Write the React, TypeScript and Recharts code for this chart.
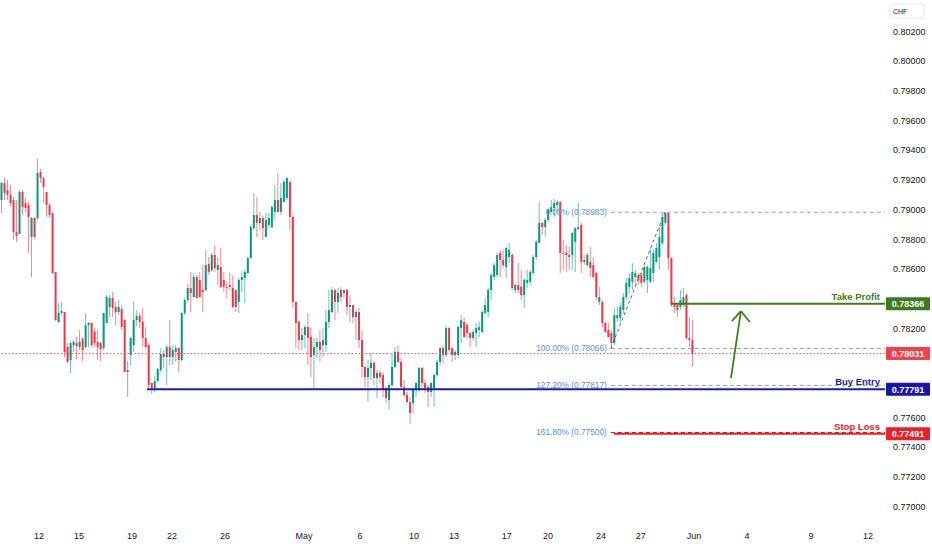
import { Bar, ComposedChart, ReferenceLine, XAxis, YAxis } from 'recharts'

// USD/CHF candles, prices stored in units of 0.00001 CHF (79065 = 0.79065).
// One entry per bar left to right.
const opens = [
  79065, 79180, 79133, 79099, 79065, 78850, 78836, 79120, 79045, 79031, 78816, 78944, 78944, 79254, 79213, 79120, 79031, 78978, 78581, 78244, 78304, 78311, 78075, 77988, 78088, 78102, 78075, 78129, 78075, 78223, 78237, 78177, 78109, 78102, 78068, 78237, 78345, 78405, 78345, 78311, 78331,
  78257, 77907, 78021, 78088, 78257, 78284, 78244, 78136, 78088, 77833, 77799, 77846, 77920, 78028, 78008, 78075, 78008, 78042, 78068, 77988, 78304, 78392, 78472, 78412, 78547, 78527, 78459, 78459, 78634, 78594, 78695, 78594, 78614, 78527, 78480, 78493, 78473,
  78459, 78379, 78527, 78540, 78574, 78674, 78876, 78964, 78911, 78944, 78816, 78897, 78883, 78985, 79065, 78985, 79052, 79079, 79187, 78951, 78379, 78244, 78122, 78156, 78210, 78143, 78021, 78075, 78109, 78088, 78088, 78244, 78311, 78459, 78379, 78459, 78439, 78459,
  78345, 78358, 78277, 78311, 78122, 77941, 77873, 77934, 77968, 77866, 77900, 77886, 77799, 77718, 77819, 77941, 78042, 77975, 77806, 77752, 77705, 77698, 77786, 77786, 77934, 77833, 77806, 77773, 77799, 77886, 77975, 78068, 78021, 78203, 78068, 78021, 78021, 78203, 78244,
  78223, 78170, 78136, 78170, 78190, 78177, 78304, 78311, 78459, 78547, 78560, 78709, 78661, 78614, 78681, 78695, 78459, 78493, 78480, 78425, 78507, 78514, 78574, 78681, 78776, 78911, 78883, 78931, 78985, 79011, 79031, 79052, 78709, 78709, 78695, 78695, 78783, 78870,
  78897, 78661, 78627, 78648, 78627, 78574, 78379, 78379, 78237, 78190, 78170, 78102, 78270, 78270, 78324, 78412, 78480, 78514, 78547, 78560, 78560, 78514, 78527, 78514, 78574, 78648, 78681, 78776, 78911, 78978, 78674, 78358, 78358, 78345, 78358, 78425, 78136, 78122,
]
const highs = [
  79187, 79213, 79200, 79166, 79086, 79065, 79133, 79133, 79079, 79052, 78951, 78951, 79342, 79274, 79220, 79120, 79045, 78978, 78581, 78372, 78379, 78311, 78102, 78109, 78122, 78143, 78190, 78143, 78304, 78244, 78237, 78203, 78190, 78109, 78304, 78425, 78425, 78446, 78379, 78392, 78358,
  78263, 77981, 78143, 78385, 78324, 78304, 78338, 78210, 78102, 77833, 77880, 77934, 78068, 78055, 78088, 78257, 78088, 78088, 78075, 78311, 78405, 78500, 78581, 78574, 78560, 78581, 78627, 78729, 78681, 78709, 78762, 78681, 78742, 78581, 78514, 78574, 78560,
  78459, 78540, 78587, 78594, 78681, 78897, 79113, 79086, 78985, 78958, 78978, 78978, 79031, 79166, 79247, 79180, 79200, 79220, 79193, 78964, 78385, 78257, 78203, 78223, 78304, 78203, 78136, 78136, 78190, 78203, 78324, 78459, 78480, 78466, 78473, 78480, 78459, 78466,
  78425, 78358, 78324, 78338, 78190, 77948, 77988, 78035, 77981, 77920, 77920, 77907, 77806, 77833, 78035, 78075, 78088, 78001, 77853, 77773, 77739, 77799, 77840, 77941, 77941, 77853, 77819, 77840, 77900, 77988, 78075, 78088, 78223, 78210, 78068, 78055, 78223, 78290, 78277,
  78237, 78177, 78190, 78237, 78244, 78324, 78405, 78473, 78574, 78641, 78709, 78729, 78729, 78749, 78776, 78709, 78507, 78641, 78594, 78540, 78594, 78594, 78695, 78796, 79052, 78918, 78944, 79011, 79065, 79072, 79065, 79059, 78796, 78762, 78749, 78850, 78883, 79045,
  78911, 78695, 78709, 78749, 78681, 78581, 78480, 78392, 78244, 78237, 78190, 78338, 78345, 78372, 78439, 78540, 78574, 78641, 78594, 78574, 78581, 78627, 78627, 78742, 78729, 78776, 78883, 78978, 78983, 78978, 78681, 78412, 78372, 78459, 78473, 78439, 78277, 78257,
]
const lows = [
  78978, 79065, 79065, 79025, 78796, 78783, 78836, 78964, 78985, 78709, 78547, 78809, 78931, 79180, 79045, 78951, 78944, 78567, 78250, 78237, 78290, 78008, 77968, 77900, 78042, 77994, 78055, 77981, 78068, 78075, 78075, 78075, 77988, 77981, 78055, 78237, 78277, 78277, 78223, 78290, 78190,
  77907, 77739, 77954, 78042, 78217, 78203, 78075, 78068, 77799, 77759, 77773, 77840, 77907, 77934, 77819, 77954, 77954, 77975, 77907, 77975, 78290, 78372, 78311, 78405, 78405, 78405, 78311, 78446, 78560, 78581, 78581, 78493, 78473, 78446, 78405, 78459, 78338,
  78311, 78304, 78446, 78372, 78560, 78674, 78863, 78816, 78863, 78796, 78816, 78876, 78876, 78931, 78978, 78964, 79052, 79065, 78863, 78338, 78068, 78055, 78055, 78068, 77954, 77873, 77799, 78001, 77975, 78008, 78042, 78203, 78304, 78257, 78304, 78379, 78405, 78290,
  78244, 78237, 78122, 78068, 77873, 77806, 77705, 77853, 77819, 77732, 77833, 77739, 77698, 77651, 77806, 77934, 77968, 77799, 77739, 77698, 77557, 77631, 77739, 77773, 77806, 77766, 77671, 77739, 77671, 77873, 77954, 77968, 78008, 78042, 77975, 77988, 78008, 78102, 78136,
  78136, 78075, 78122, 78075, 78143, 78170, 78290, 78277, 78392, 78527, 78547, 78547, 78607, 78540, 78641, 78459, 78439, 78439, 78392, 78338, 78473, 78493, 78560, 78661, 78776, 78829, 78816, 78918, 78978, 78951, 78978, 78574, 78594, 78581, 78594, 78594, 78581, 78863,
  78574, 78627, 78614, 78547, 78540, 78392, 78358, 78210, 78170, 78136, 78066, 78088, 78244, 78237, 78304, 78392, 78439, 78459, 78493, 78493, 78480, 78507, 78439, 78507, 78514, 78641, 78594, 78762, 78897, 78594, 78345, 78304, 78277, 78324, 78345, 78122, 78075, 77941,
]
const closes = [
  79180, 79113, 79099, 79045, 78850, 78823, 79120, 79018, 79011, 78951, 78944, 78816, 79247, 79213, 79153, 79031, 78964, 78574, 78257, 78304, 78317, 78042, 77975, 78102, 78109, 78082, 78109, 78055, 78223, 78237, 78088, 78102, 78075, 78061, 78304, 78412, 78405, 78338, 78311, 78345, 78210,
  77907, 77920, 78136, 78257, 78284, 78244, 78136, 78075, 77819, 77799, 77846, 77927, 78028, 78008, 78075, 78008, 78055, 78068, 77988, 78304, 78392, 78472, 78439, 78547, 78405, 78412, 78446, 78627, 78581, 78695, 78607, 78627, 78480, 78480, 78473, 78480, 78345,
  78345, 78527, 78547, 78581, 78674, 78883, 78964, 78911, 78944, 78876, 78931, 78944, 79018, 79065, 78985, 79079, 79187, 79213, 78951, 78379, 78237, 78122, 78156, 78210, 78136, 78008, 78075, 78109, 78055, 78122, 78244, 78324, 78459, 78379, 78439, 78412, 78459, 78345,
  78358, 78277, 78311, 78122, 77941, 77873, 77934, 77968, 77866, 77900, 77873, 77786, 77732, 77819, 77941, 78042, 77975, 77806, 77752, 77705, 77631, 77786, 77833, 77934, 77833, 77799, 77773, 77833, 77886, 77975, 78068, 78021, 78203, 78055, 78021, 78042, 78210, 78257, 78143,
  78170, 78136, 78177, 78203, 78210, 78311, 78358, 78459, 78560, 78627, 78695, 78661, 78627, 78742, 78729, 78473, 78493, 78459, 78425, 78527, 78527, 78581, 78681, 78783, 78911, 78883, 78931, 78998, 79018, 79045, 79052, 78709, 78702, 78695, 78681, 78843, 78876, 78883,
  78648, 78648, 78695, 78607, 78547, 78412, 78412, 78237, 78177, 78143, 78102, 78290, 78290, 78345, 78412, 78507, 78540, 78581, 78574, 78527, 78507, 78614, 78614, 78607, 78709, 78742, 78816, 78951, 78978, 78674, 78358, 78345, 78324, 78392, 78412, 78136, 78122, 78031,
]

// time scale: bar index where each date label sits
const dateTicks = [12.65, 25.96, 43.6, 56.9, 74.56, 100.86, 119.5, 137.47, 150.78, 168.4, 182.07, 199.7, 213.0, 230.67, 248.3, 269.6, 288.6]
const dateLabels = ['12', '15', '19', '22', '26', 'May', '6', '10', '13', '17', '20', '24', '27', 'Jun', '4', '9', '12']
const priceTicks = [0.77, 0.772, 0.774, 0.776, 0.782, 0.786, 0.788, 0.79, 0.792, 0.794, 0.796, 0.798, 0.8, 0.802]

const lastPrice = 0.78031
const takeProfit = 0.78366
const buyEntry = 0.77791
const stopLoss = 0.77491
const fibLevels = [
  { name: '0.00%', price: 0.78983 },
  { name: '100.00%', price: 0.78066 },
  { name: '127.20%', price: 0.77817 },
]
const fibExt = { name: '161.80%', price: 0.775 }
const swingLow = { bar: 203, price: 0.78066 }
const swingHigh = { bar: 221, price: 0.78983 }

const X_MIN = -0.33
const X_MAX = 294.27
const Y_MIN = 0.76897
const Y_MAX = 0.80412

const FONT = "'Liberation Sans', Arial, sans-serif"
const NARROW = "'Liberation Sans Narrow', 'Liberation Sans', Arial, sans-serif"
const UP = '#089981'
const DOWN = '#f23645'
const TP_GREEN = '#3d7b1f'
const ENTRY_BLUE = '#1a1fa6'
const SL_RED = '#e8212b'
const FIB_TEXT = '#5b90d3'
const FIB_LINE = '#8fa3bf'

const candles = closes.map((c, i) => ({
  i,
  o: opens[i] / 1e5,
  h: highs[i] / 1e5,
  l: lows[i] / 1e5,
  c: c / 1e5,
  range: [lows[i] / 1e5, highs[i] / 1e5],
}))

function Candle(props: any) {
  const { x, y, width, height, payload } = props
  if (x == null || !payload) return null
  const { o, h, l, c } = payload
  const top = Math.min(y, y + height)
  const span = Math.abs(height)
  const k = h > l ? span / (h - l) : 0
  const color = c >= o ? UP : DOWN
  const bodyTop = top + (h - Math.max(o, c)) * k
  const bodyH = Math.max(1, Math.abs(o - c) * k)
  const cx = x + width / 2
  return (
    <g>
      <line x1={cx} x2={cx} y1={top} y2={top + span} stroke={color} strokeOpacity={0.6} strokeWidth={1} />
      <rect x={cx - 1} y={bodyTop} width={2} height={bodyH} fill={color} />
    </g>
  )
}

// title above the right end of a level line + coloured price tag on the scale
function levelLabel(title: string | null, color: string, price: number, tagFill: string) {
  return (p: any) => {
    const vb = p.viewBox
    if (!vb) return null
    const right = vb.x + vb.width
    const y = vb.y
    return (
      <g>
        {title && (
          <text x={right - 5} y={y - 4} textAnchor="end" fill={color} fontSize={9.5} fontWeight="bold" fontFamily={FONT}>
            {title}
          </text>
        )}
        <rect x={right + 1} y={y - 6.5} width={44} height={13} rx={1} fill={tagFill} />
        <text x={right + 23} y={y + 3.3} textAnchor="middle" fill="#fff" fontSize={9} fontWeight="bold" fontFamily={FONT}>
          {price.toFixed(5)}
        </text>
      </g>
    )
  }
}

function fibLabel(text: string) {
  return (p: any) => {
    const vb = p.viewBox
    if (!vb) return null
    return (
      <text x={vb.x - 4} y={vb.y + 3} textAnchor="end" fill={FIB_TEXT} fontSize={8.3} fontFamily={NARROW}>
        {text}
      </text>
    )
  }
}

function currencyLabel(p: any) {
  const vb = p.viewBox
  if (!vb) return null
  return (
    <g>
      <rect x={vb.x + 5} y={4} width={34} height={14} rx={2} fill="#fff" stroke="#e6e8ee" />
      <text x={vb.x + 8} y={13.5} fill="#131722" fontSize={7} fontFamily={FONT}>CHF</text>
    </g>
  )
}

export default function App() {
  const tick = { fill: '#131722', fontSize: 9, fontFamily: FONT }
  return (
    <div>
      <style>{'body{margin:0;background:#fff}'}</style>
      <ComposedChart width={932} height={550} data={candles} margin={{ top: 0, right: 0, bottom: 0, left: 0 }}>
        <XAxis
          dataKey="i"
          type="number"
          domain={[X_MIN, X_MAX]}
          allowDataOverflow
          ticks={dateTicks}
          interval={0}
          tickFormatter={(v: number) => dateLabels[dateTicks.indexOf(v)] ?? ''}
          axisLine={false}
          tickLine={false}
          tickMargin={5}
          height={28}
          tick={tick}
        />
        <YAxis
          orientation="right"
          type="number"
          domain={[Y_MIN, Y_MAX]}
          allowDataOverflow
          ticks={priceTicks}
          interval={0}
          tickFormatter={(v: number) => v.toFixed(5)}
          axisLine={false}
          tickLine={false}
          width={47}
          tick={tick}
          label={currencyLabel}
        />

        {fibLevels.map(f => (
          <ReferenceLine
            key={f.name}
            segment={[{ x: swingLow.bar, y: f.price }, { x: X_MAX, y: f.price }]}
            stroke={FIB_LINE}
            strokeDasharray="4 3"
            label={fibLabel(`${f.name} (${f.price.toFixed(5)})`)}
          />
        ))}
        <ReferenceLine
          segment={[{ x: swingLow.bar, y: swingLow.price }, { x: swingHigh.bar, y: swingHigh.price }]}
          stroke="#5d6170"
          strokeDasharray="3 3"
        />

        <Bar dataKey="range" barSize={2} shape={Candle} isAnimationActive={false} />

        <ReferenceLine y={lastPrice} stroke="#f7525f" strokeDasharray="1.5 2" label={levelLabel(null, DOWN, lastPrice, '#f0424e')} />
        <ReferenceLine
          segment={[{ x: 223, y: takeProfit }, { x: X_MAX, y: takeProfit }]}
          stroke={TP_GREEN}
          strokeWidth={2}
          label={levelLabel('Take Profit', TP_GREEN, takeProfit, TP_GREEN)}
        />
        <ReferenceLine
          segment={[{ x: 48.6, y: buyEntry }, { x: X_MAX, y: buyEntry }]}
          stroke={ENTRY_BLUE}
          strokeWidth={2}
          label={levelLabel('Buy Entry', ENTRY_BLUE, buyEntry, '#1616a0')}
        />
        <ReferenceLine
          segment={[{ x: 204, y: stopLoss }, { x: X_MAX, y: stopLoss }]}
          stroke={SL_RED}
          strokeWidth={2}
          label={levelLabel('Stop Loss', SL_RED, stopLoss, SL_RED)}
        />
        <ReferenceLine
          segment={[{ x: swingLow.bar, y: fibExt.price }, { x: X_MAX, y: fibExt.price }]}
          stroke="#b3141c"
          strokeDasharray="4 3"
          label={fibLabel(`${fibExt.name} (${fibExt.price.toFixed(5)})`)}
        />

        {/* arrow towards the target */}
        <ReferenceLine segment={[{ x: 243.0, y: 0.77866 }, { x: 246.3, y: 0.78317 }]} stroke="#3f8022" strokeWidth={1.8} />
        <ReferenceLine segment={[{ x: 246.3, y: 0.78317 }, { x: 243.3, y: 0.7825 }]} stroke="#3f8022" strokeWidth={1.8} />
        <ReferenceLine segment={[{ x: 246.3, y: 0.78317 }, { x: 249.3, y: 0.78244 }]} stroke="#3f8022" strokeWidth={1.8} />
      </ComposedChart>
    </div>
  )
}
